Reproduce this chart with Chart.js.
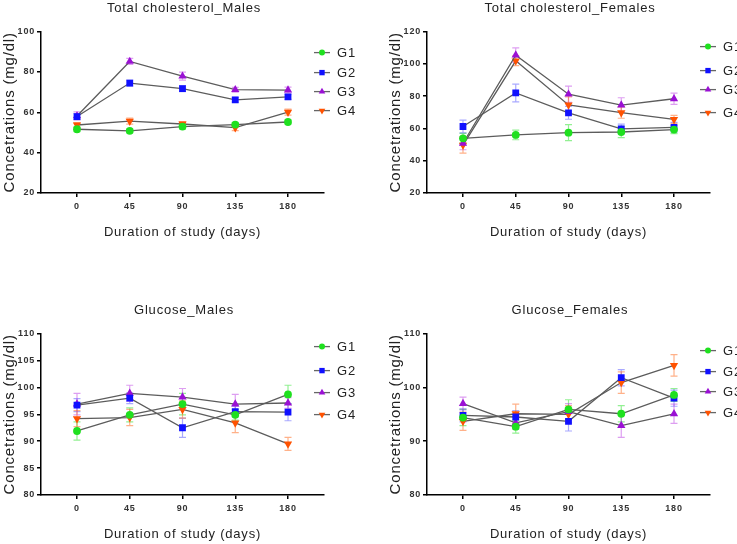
<!DOCTYPE html>
<html>
<head>
<meta charset="utf-8">
<title>Cholesterol and glucose</title>
<script src="https://cdn.jsdelivr.net/npm/chart.js@4.4.0/dist/chart.umd.min.js"></script>
<style>
    html, body { margin: 0; padding: 0; background: #fff; }
    body { width: 737px; height: 544px; position: relative; overflow: hidden; }
    .panel { position: absolute; width: 368px; height: 244px; }
</style>
</head>
<body>
<div class="panel" style="left:0px; top:0px;"><canvas id="tc-males"></canvas></div>
<div class="panel" style="left:386px; top:0px;"><canvas id="tc-females"></canvas></div>
<div class="panel" style="left:0px; top:302px;"><canvas id="glu-males"></canvas></div>
<div class="panel" style="left:386px; top:302px;"><canvas id="glu-females"></canvas></div>

<script>
// days of sampling, shared by all four panels
const days = [0, 45, 90, 135, 180];
const groups = ['G1', 'G2', 'G3', 'G4'];

// Total cholesterol, males (mg/dl) and error bars
const tcMalesG1 = [51.6, 50.8, 52.9, 53.9, 55.2];
const tcMalesG2 = [57.9, 74.5, 71.7, 66.2, 67.6];
const tcMalesG3 = [58.2, 85.2, 77.9, 71.2, 71.0];
const tcMalesG4 = [53.7, 55.6, 54.2, 52.4, 60.1];
const tcMalesErrG1 = [1.2, 1.0, 1.2, 1.0, 1.0];
const tcMalesErrG2 = [1.5, 1.5, 1.5, 1.2, 1.2];
const tcMalesErrG3 = [2.0, 1.5, 2.0, 1.2, 1.5];
const tcMalesErrG4 = [1.2, 1.5, 1.2, 1.5, 1.5];

// Total cholesterol, females
const tcFemalesG1 = [53.9, 56.0, 57.4, 57.8, 59.3];
const tcFemalesG2 = [61.2, 82.0, 69.7, 59.7, 60.7];
const tcFemalesG3 = [50.8, 105.4, 81.2, 74.5, 78.4];
const tcFemalesG4 = [49.7, 101.9, 74.6, 69.8, 65.6];
const tcFemalesErrG1 = [3.0, 3.0, 5.0, 3.5, 2.5];
const tcFemalesErrG2 = [4.0, 5.5, 4.0, 3.0, 3.0];
const tcFemalesErrG3 = [4.0, 4.5, 5.0, 4.5, 3.5];
const tcFemalesErrG4 = [5.0, 3.0, 5.0, 3.5, 2.5];

// Glucose, males
const gluMalesG1 = [91.9, 94.9, 96.9, 94.9, 98.7];
const gluMalesG2 = [96.7, 98.0, 92.5, 95.5, 95.4];
const gluMalesG3 = [96.9, 98.9, 98.2, 96.9, 97.1];
const gluMalesG4 = [94.2, 94.4, 95.9, 93.4, 89.5];
const gluMalesErrG1 = [1.7, 1.3, 2.0, 1.0, 1.7];
const gluMalesErrG2 = [1.2, 1.0, 1.8, 1.0, 1.6];
const gluMalesErrG3 = [2.0, 1.5, 1.6, 1.8, 1.0];
const gluMalesErrG4 = [1.5, 1.5, 1.6, 1.8, 1.2];

// Glucose, females
const gluFemalesG1 = [94.4, 92.7, 95.9, 95.1, 98.6];
const gluFemalesG2 = [94.8, 94.5, 93.7, 101.8, 98.0];
const gluFemalesG3 = [97.0, 93.4, 95.5, 92.9, 95.1];
const gluFemalesG4 = [93.7, 95.1, 95.0, 100.9, 104.1];
const gluFemalesErrG1 = [1.5, 1.2, 1.8, 1.5, 1.2];
const gluFemalesErrG2 = [1.2, 1.2, 1.8, 1.5, 1.5];
const gluFemalesErrG3 = [1.2, 1.2, 1.5, 2.2, 1.8];
const gluFemalesErrG4 = [1.7, 1.8, 1.6, 2.0, 2.0];

const FONT = '"Liberation Sans", Arial, sans-serif';

// marker look per group
const styles = [
    { color: '#1fe01f', err: 'rgba(40,225,40,0.5)',  shape: 'circle',   radius: 3.9 },
    { color: '#1010ff', err: 'rgba(40,40,255,0.4)',  shape: 'rect',     radius: 4.8 },
    { color: '#9a10d4', err: 'rgba(180,40,225,0.45)', shape: 'triangle', radius: 4.8 },
    { color: '#ff5200', err: 'rgba(255,100,20,0.5)', shape: 'down',     radius: 4.8 }
];

function drawShape(ctx, shape, x, y, r) {
    ctx.beginPath();
    if (shape === 'circle') {
        ctx.arc(x, y, r, 0, Math.PI * 2);
    } else if (shape === 'rect') {
        const s = r * Math.SQRT1_2;
        ctx.rect(x - s, y - s, 2 * s, 2 * s);
    } else if (shape === 'triangle') {
        ctx.moveTo(x, y - r);
        ctx.lineTo(x + r * 0.87, y + r * 0.5);
        ctx.lineTo(x - r * 0.87, y + r * 0.5);
        ctx.closePath();
    } else {
        ctx.moveTo(x, y + r);
        ctx.lineTo(x + r * 0.87, y - r * 0.5);
        ctx.lineTo(x - r * 0.87, y - r * 0.5);
        ctx.closePath();
    }
    ctx.fill();
}

// Prism spaces its lettering a little
const spacingPlugin = {
    id: 'spacing',
    beforeLayout(chart) { chart.ctx.letterSpacing = '0.8px'; },
    beforeDraw(chart) { chart.ctx.letterSpacing = '0.8px'; }
};

// vertical error bars with caps, under the lines and markers
const errorBarPlugin = {
    id: 'errorBars',
    beforeDatasetsDraw(chart) {
        const ctx = chart.ctx;
        const xs = chart.scales.x, ys = chart.scales.y;
        chart.data.datasets.forEach((ds) => {
            if (!ds.errors) return;
            ctx.save();
            ctx.strokeStyle = ds.errorColor;
            ctx.lineWidth = 1.2;
            ds.data.forEach((p, i) => {
                const e = ds.errors[i];
                const px = xs.getPixelForValue(p.x);
                const top = ys.getPixelForValue(p.y + e);
                const bot = ys.getPixelForValue(p.y - e);
                ctx.beginPath();
                ctx.moveTo(px, top); ctx.lineTo(px, bot);
                ctx.moveTo(px - 3.5, top); ctx.lineTo(px + 3.5, top);
                ctx.moveTo(px - 3.5, bot); ctx.lineTo(px + 3.5, bot);
                ctx.stroke();
            });
            ctx.restore();
        });
    }
};

// Prism style legend: short grey line with the marker, label to the right
const legendPlugin = {
    id: 'sideLegend',
    afterDraw(chart, args, opts) {
        const ctx = chart.ctx;
        const area = chart.chartArea;
        ctx.save();
        chart.data.datasets.forEach((ds, i) => {
            const y = area.top + opts.rows[i];
            const x0 = area.right - 10;
            ctx.strokeStyle = '#666';
            ctx.lineWidth = 1.3;
            ctx.beginPath();
            ctx.moveTo(x0, y); ctx.lineTo(x0 + 16, y);
            ctx.stroke();
            ctx.fillStyle = ds.pointBackgroundColor;
            drawShape(ctx, ds.shape, x0 + 8, y, ds.shape === 'circle' ? 3 : 3.8);
            ctx.fillStyle = '#222';
            ctx.font = '13px ' + FONT;
            ctx.textBaseline = 'middle';
            ctx.textAlign = 'left';
            ctx.fillText(ds.label, x0 + 23, y + 1);
        });
        ctx.restore();
    }
};

function makeChart(id, title, series, errors, yMin, yMax, yStep, legendRows) {
    const datasets = series.map((vals, gi) => {
        const st = styles[gi];
        return {
            label: groups[gi],
            data: days.map((d, i) => ({ x: d, y: vals[i] })),
            errors: errors[gi],
            errorColor: st.err,
            shape: st.shape,
            borderColor: '#5c5c5c',
            borderWidth: 1.3,
            pointBackgroundColor: st.color,
            pointBorderColor: st.color,
            pointBorderWidth: 0,
            pointStyle: st.shape === 'down' ? 'triangle' : st.shape,
            rotation: st.shape === 'down' ? 180 : 0,
            pointRadius: st.radius,
            tension: 0,
            fill: false
        };
    });

    return new Chart(document.getElementById(id), {
        type: 'line',
        data: { datasets },
        options: {
            responsive: true,
            maintainAspectRatio: false,
            animation: false,
            events: [],
            layout: { padding: 0 },
            plugins: {
                legend: { display: false },
                tooltip: { enabled: false },
                title: {
                    display: true,
                    text: title,
                    color: '#222',
                    font: { family: FONT, size: 13, weight: 'normal' },
                    padding: { top: 1, bottom: 15 }
                },
                sideLegend: { rows: legendRows }
            },
            scales: {
                x: {
                    type: 'linear',
                    min: -30.7,
                    max: 210.7,
                    afterBuildTicks: (axis) => { axis.ticks = days.map(v => ({ value: v })); },
                    afterFit: (axis) => { axis.height = 51; },
                    border: { color: '#000', width: 1.5 },
                    grid: { drawOnChartArea: false, color: '#000', lineWidth: 1.5, tickLength: 4 },
                    ticks: { color: '#333', padding: 4, font: { family: FONT, size: 9, weight: 'bold' } },
                    title: {
                        display: true,
                        text: 'Duration of study (days)',
                        color: '#222',
                        font: { family: FONT, size: 13 },
                        padding: { top: 0, bottom: 4 }
                    }
                },
                y: {
                    min: yMin,
                    max: yMax,
                    afterFit: (axis) => { axis.width = 41; },
                    border: { color: '#000', width: 1.5 },
                    grid: { drawOnChartArea: false, color: '#000', lineWidth: 1.5, tickLength: 4 },
                    ticks: { stepSize: yStep, color: '#333', padding: 2, font: { family: FONT, size: 9, weight: 'bold' } },
                    title: {
                        display: true,
                        text: 'Concetrations (mg/dl)',
                        color: '#222',
                        font: { family: FONT, size: 15 },
                        padding: { top: 1, bottom: 0 }
                    }
                },
                // empty strip on the right that holds the legend
                legendSpace: {
                    position: 'right',
                    display: true,
                    min: yMin,
                    max: yMax,
                    afterFit: (axis) => { axis.width = 44; },
                    border: { display: false },
                    grid: { display: false },
                    ticks: { display: false }
                }
            }
        },
        plugins: [spacingPlugin, errorBarPlugin, legendPlugin]
    });
}

makeChart('tc-males', 'Total cholesterol_Males',
    [tcMalesG1, tcMalesG2, tcMalesG3, tcMalesG4],
    [tcMalesErrG1, tcMalesErrG2, tcMalesErrG3, tcMalesErrG4],
    20, 100, 20, [21, 41, 60, 79]);

makeChart('tc-females', 'Total cholesterol_Females',
    [tcFemalesG1, tcFemalesG2, tcFemalesG3, tcFemalesG4],
    [tcFemalesErrG1, tcFemalesErrG2, tcFemalesErrG3, tcFemalesErrG4],
    20, 120, 20, [15, 39, 58, 81]);

makeChart('glu-males', 'Glucose_Males',
    [gluMalesG1, gluMalesG2, gluMalesG3, gluMalesG4],
    [gluMalesErrG1, gluMalesErrG2, gluMalesErrG3, gluMalesErrG4],
    80, 110, 5, [13, 37, 59, 81]);

makeChart('glu-females', 'Glucose_Females',
    [gluFemalesG1, gluFemalesG2, gluFemalesG3, gluFemalesG4],
    [gluFemalesErrG1, gluFemalesErrG2, gluFemalesErrG3, gluFemalesErrG4],
    80, 110, 10, [17, 38, 58, 79]);
</script>
</body>
</html>
